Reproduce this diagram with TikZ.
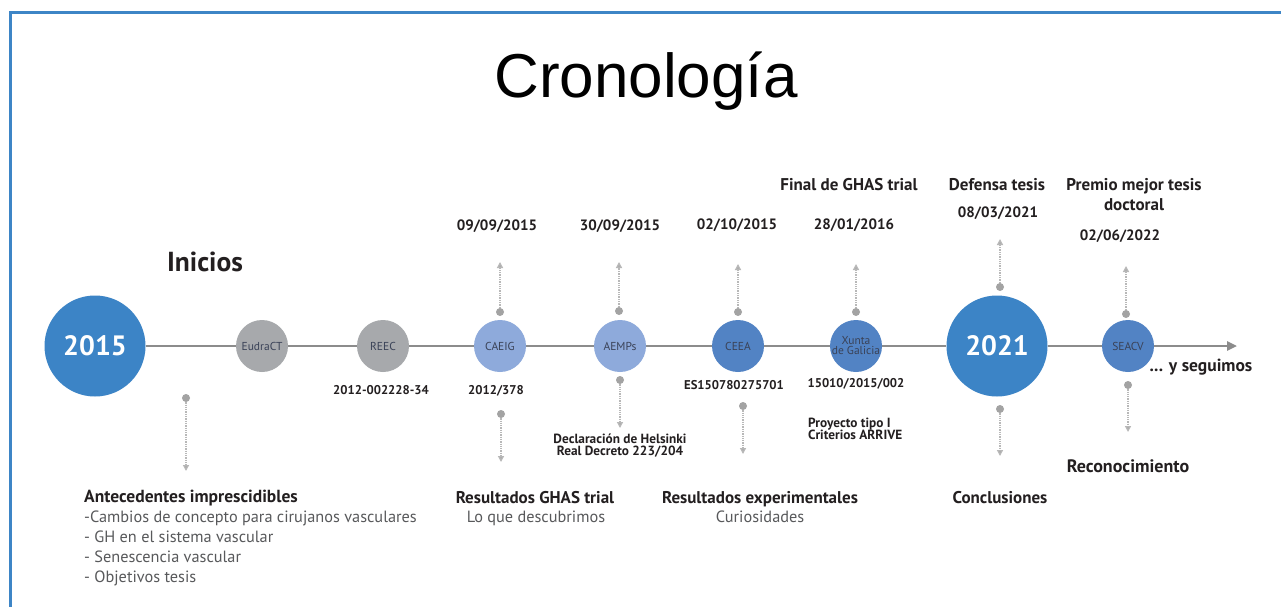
\documentclass[tikz,border=0pt]{standalone}
\usepackage{fontspec}
\setmainfont{PT Sans}
\newfontfamily\titlefont{Liberation Sans}
\usetikzlibrary{arrows.meta}
\definecolor{frameblue}{HTML}{3D85C6}
\definecolor{bigblue}{HTML}{3C84C6}
\definecolor{midblue}{HTML}{5283C4}
\definecolor{lightblue}{HTML}{8EAADB}
\definecolor{circgray}{HTML}{A7A9AC}
\definecolor{axisgray}{HTML}{8C8C8C}
\definecolor{dotgray}{HTML}{A3A3A3}
\definecolor{linkgray}{HTML}{B8B8B8}
\definecolor{labeltext}{HTML}{231F20}
\definecolor{subtext}{HTML}{58595B}
\definecolor{circtext}{HTML}{3A4257}
\begin{document}
\begin{tikzpicture}[x=1pt,y=-1pt,
  evbig/.style={circle,fill=bigblue,minimum size=101pt,inner sep=0pt,text=white,font=\fontsize{28}{28}\selectfont\bfseries},
  evsmall/.style={circle,minimum size=52pt,inner sep=0pt,text=circtext,font=\fontsize{11.5}{11}\selectfont,align=center},
  evgray/.style={evsmall,fill=circgray},
  evlight/.style={evsmall,fill=lightblue},
  evmid/.style={evsmall,fill=midblue},
  axisline/.style={draw=axisgray,line width=2.6pt},
  pin/.style={circle,fill=dotgray,minimum size=8pt,inner sep=0pt},
  link/.style={draw=linkgray,line width=1.3pt,densely dotted,-{Triangle[width=6pt,length=6pt,fill=dotgray]}},
  lbl/.style={font=\fontsize{17}{17}\selectfont\bfseries,text=labeltext,inner sep=0pt,anchor=base},
  datelbl/.style={font=\fontsize{15}{15}\selectfont\bfseries,text=labeltext,inner sep=0pt,anchor=base},
  sublbl/.style={font=\fontsize{16.3}{16}\selectfont,text=subtext,inner sep=0pt,anchor=base},
  code/.style={font=\fontsize{12.7}{13}\selectfont\bfseries,text=labeltext,inner sep=0pt,anchor=base},
  note/.style={font=\fontsize{13.3}{13}\selectfont\bfseries,text=labeltext,inner sep=0pt,anchor=base}
]
\useasboundingbox[fill=white] (0,0) rectangle (1281,607);
\draw[frameblue,line width=3pt] (10,607) -- (10,13) -- (1281,13);

% title
\node[font=\titlefont\fontsize{62}{62}\selectfont,inner sep=0pt,anchor=base] (title) at (646,98) {Cronología};

% events
\node[evbig] (e2015) at (95,346) {2015};
\node[evgray] (eudra) at (262,346) {EudraCT};
\node[evgray] (reec) at (383,346) {REEC};
\node[evlight] (caeig) at (500,346) {CAEIG};
\node[evlight] (aemps) at (620,346) {AEMPs};
\node[evmid] (ceea) at (738,346) {CEEA};
\node[evmid,font=\fontsize{11.5}{10}\selectfont] (xunta) at (856,346) {Xunta\\de Galicia};
\node[evbig] (e2021) at (997,346) {2021};
\node[evmid] (seacv) at (1128,346) {SEACV};
\coordinate (axend) at (1237,346);

% axis
\draw[axisline] (e2015) -- (eudra);
\draw[axisline] (eudra) -- (reec);
\draw[axisline] (reec) -- (caeig);
\draw[axisline] (caeig) -- (aemps);
\draw[axisline] (aemps) -- (ceea);
\draw[axisline] (ceea) -- (xunta);
\draw[axisline] (xunta) -- (e2021);
\draw[axisline] (e2021) -- (seacv);
\draw[axisline,-{Triangle[width=9pt,length=10pt]}] (seacv) -- (axend);

% up pins
\node[pin] (pu1) at (500,312) {};  \coordinate (au1) at (500,262);
\node[pin] (pu2) at (619,311) {};  \coordinate (au2) at (619,262);
\node[pin] (pu3) at (738,312) {};  \coordinate (au3) at (738,264);
\node[pin] (pu4) at (856,312) {};  \coordinate (au4) at (856,264);
\node[pin] (pu5) at (1000,287) {}; \coordinate (au5) at (1000,239);
\node[pin] (pu6) at (1126,314) {}; \coordinate (au6) at (1126,266);
\foreach \i in {1,...,6} {\draw[link] (pu\i) -- (au\i);}

% down pins
\node[pin] (pd1) at (186,398) {};  \coordinate (ad1) at (186,471);
\node[pin] (pd2) at (501,414) {};  \coordinate (ad2) at (501,462);
\node[pin] (pd3) at (620,380) {};  \coordinate (ad3) at (620,428);
\node[pin] (pd4) at (743,406) {};  \coordinate (ad4) at (743,454);
\node[pin] (pd5) at (1000,409) {}; \coordinate (ad5) at (1000,456);
\node[pin] (pd6) at (1128,385) {}; \coordinate (ad6) at (1128,432);
\foreach \i in {1,...,6} {\draw[link] (pd\i) -- (ad\i);}

% top labels
\node[lbl,font=\fontsize{27.5}{27}\selectfont\bfseries] (inicios) at (205,271) {Inicios};
\node[datelbl] (d1) at (497,230) {09/09/2015};
\node[datelbl] (d2) at (620,230) {30/09/2015};
\node[datelbl] (d3) at (737,229) {02/10/2015};
\node[datelbl] (d4) at (854,229) {28/01/2016};
\node[lbl] (t4) at (849,190) {Final de GHAS trial};
\node[lbl] (t5) at (997,190) {Defensa tesis};
\node[datelbl] (d5) at (998,217) {08/03/2021};
\node[lbl] (t6a) at (1134,190) {Premio mejor tesis};
\node[lbl] (t6b) at (1134,210) {doctoral};
\node[datelbl] (d6) at (1120,240) {02/06/2022};
\node[lbl,font=\fontsize{17.5}{17}\selectfont\bfseries] (seguimos) at (1201,371) {... y seguimos};

% codes below
\node[code] (c1) at (381,394) {2012-002228-34};
\node[code] (c2) at (496,394) {2012/378};
\node[code] (c3) at (734,389) {ES150780275701};
\node[code] (c4) at (856,387) {15010/2015/002};
\node[note] (n1) at (620,443) {Declaración de Helsinki};
\node[note] (n2) at (620,455) {Real Decreto 223/204};
\node[note,anchor=base west] (n3) at (808,427) {Proyecto tipo I};
\node[note,anchor=base west] (n4) at (808,439) {Criterios ARRIVE};

% bottom labels
\node[lbl,font=\fontsize{17.5}{17}\selectfont\bfseries,anchor=base west] (ant) at (84,502) {Antecedentes imprescidibles};
\node[sublbl,anchor=base west] (ant1) at (84,522) {-Cambios de concepto para cirujanos vasculares};
\node[sublbl,anchor=base west] (ant2) at (84,542) {- GH en el sistema vascular};
\node[sublbl,anchor=base west] (ant3) at (84,562) {- Senescencia vascular};
\node[sublbl,anchor=base west] (ant4) at (84,582) {- Objetivos tesis};
\node[lbl] (r1) at (535,503) {Resultados GHAS trial};
\node[sublbl] (r1s) at (536,522) {Lo que descubrimos};
\node[lbl] (r2) at (760,503) {Resultados experimentales};
\node[sublbl] (r2s) at (760,522) {Curiosidades};
\node[lbl] (concl) at (1000,503) {Conclusiones};
\node[lbl,font=\fontsize{18}{18}\selectfont\bfseries] (recon) at (1128,472) {Reconocimiento};
\end{tikzpicture}
\end{document}
